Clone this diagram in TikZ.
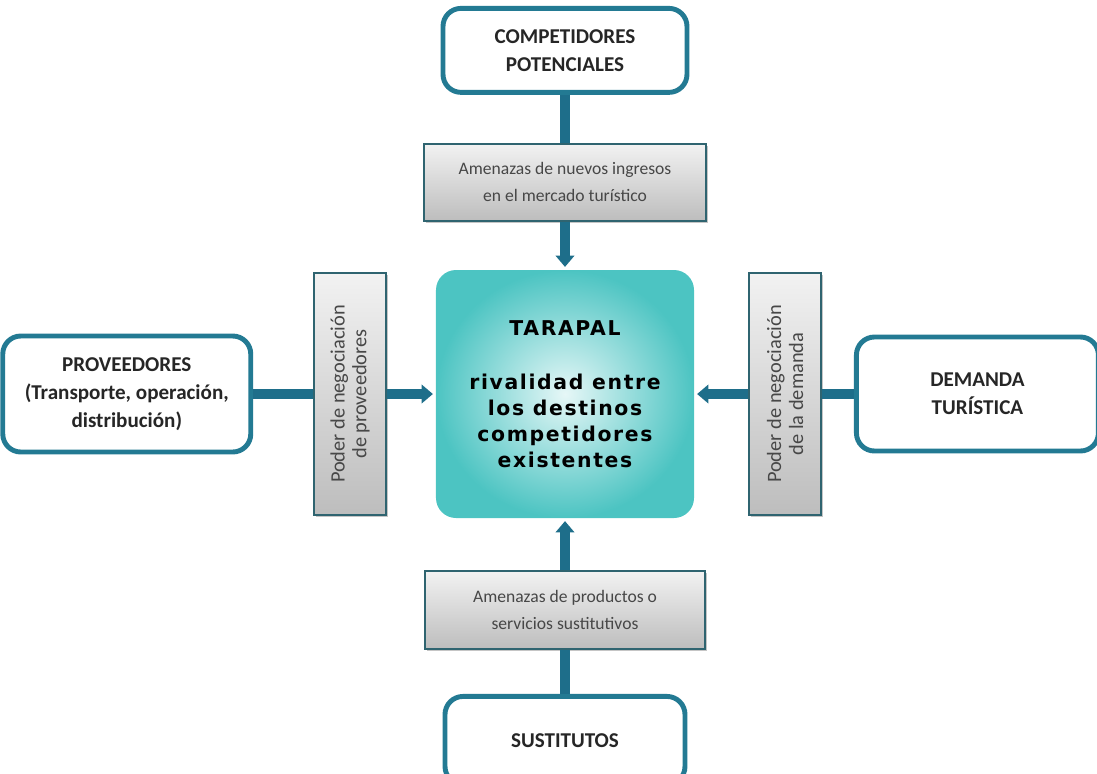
\documentclass[tikz,border=0pt]{standalone}
\usepackage{fontspec}
\setmainfont{Carlito}
\newfontfamily\corefont{DejaVu Sans}[LetterSpace=8]
\usepackage{xcolor}
\usepackage{tikz}
\usetikzlibrary{positioning,arrows.meta,shadows}
\definecolor{porterTeal}{HTML}{237A93}
\definecolor{porterArrow}{HTML}{1E6E8A}
\definecolor{porterCore}{HTML}{4CC4C2}
\definecolor{porterCoreLight}{HTML}{E6F7F7}
\definecolor{porterGreyTop}{HTML}{F2F2F2}
\definecolor{porterGreyBot}{HTML}{BDBDBD}
\definecolor{porterEdge}{HTML}{2F6470}
\definecolor{porterText}{HTML}{262626}
\tikzset{
  force/.style={rectangle,rounded corners=0.45cm,draw=porterTeal,line width=3.5pt,fill=white,
    minimum width=6.1cm,minimum height=2.1cm,align=center,
    font=\bfseries\fontsize{15}{20}\selectfont,text=porterText},
  pressure/.style={rectangle,draw=porterEdge,line width=1.2pt,
    top color=porterGreyTop,bottom color=porterGreyBot,
    drop shadow={shadow xshift=1.5pt,shadow yshift=-1.5pt,fill=black!45},
    minimum width=7.05cm,minimum height=1.93cm,align=center,
    font=\fontsize{12.5}{19}\selectfont,text=porterText!85},
  sidepressure/.style={pressure,rotate=90,minimum width=6.05cm,minimum height=1.8cm,
    font=\fontsize{14.5}{15.5}\selectfont},
  core/.style={rectangle,rounded corners=0.5cm,inner color=porterCoreLight,outer color=porterCore,
    minimum width=6.45cm,minimum height=6.2cm,align=center,
    font=\corefont\bfseries\fontsize{14.5}{18.5}\selectfont,text=black},
  link/.style={draw=porterArrow,line width=7pt},
  push/.style={link,-{Triangle[width=13pt,length=8pt]},shorten >=2pt}
}

\begin{document}
\begin{tikzpicture}
\useasboundingbox (-14.125,-9.475) rectangle (13.3,9.85);
\node[core] (core) {TARAPAL\\[20pt]rivalidad entre\\los destinos\\competidores\\existentes};

\node[pressure, above=1.2cm of core] (entrants) {Amenazas de nuevos ingresos\\en el mercado turístico};
\node[force, above=1.2cm of entrants] (rivals) {COMPETIDORES\\POTENCIALES};
\node[pressure, below=1.3cm of core, minimum height=1.95cm, minimum width=7cm] (threats) {Amenazas de productos o\\servicios sustitutivos};
\node[force, below=1.1cm of threats, minimum width=6cm, minimum height=2.2cm] (subst) {SUSTITUTOS};
\node[sidepressure, left=1.22cm of core, anchor=south] (supplypower) {Poder de negociación\\de proveedores};
\node[force, left=1.5cm of supplypower.north, minimum width=6.2cm, minimum height=2.9cm] (suppliers) {PROVEEDORES\\(Transporte, operación,\\distribución)};
\node[sidepressure, right=1.35cm of core, anchor=north] (demandpower) {Poder de negociación\\de la demanda};
\node[force, right=0.8cm of demandpower.south, minimum width=6.05cm, minimum height=2.85cm] (demand) {DEMANDA\\TURÍSTICA};

\draw[link] (rivals) -- (entrants);
\draw[push] (entrants) -- (core);
\draw[link] (subst) -- (threats);
\draw[push] (threats) -- (core);
\draw[link] (suppliers) -- (supplypower);
\draw[push] (supplypower) -- (core);
\draw[link] (demand) -- (demandpower);
\draw[push] (demandpower) -- (core);
\end{tikzpicture}
\end{document}
